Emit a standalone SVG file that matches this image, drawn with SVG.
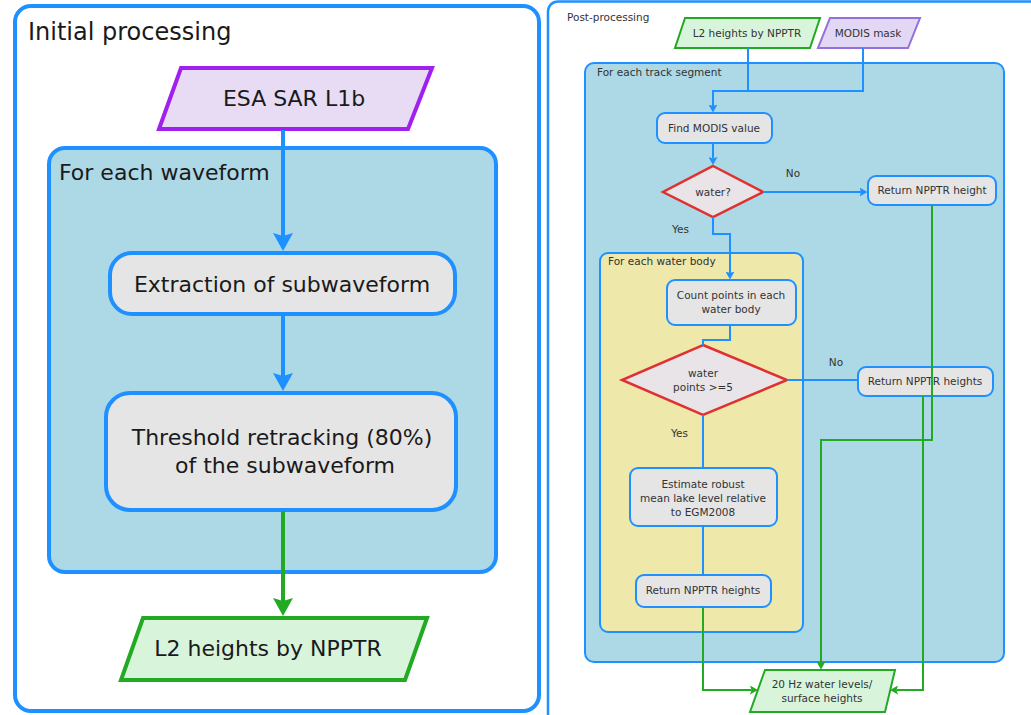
<svg xmlns="http://www.w3.org/2000/svg" width="1031" height="715" viewBox="0 0 1031 715">
<defs>
<style>
text{font-family:"DejaVu Sans","Liberation Sans",sans-serif;fill:#1a1a1a}
.big{font-size:22px}
.title{font-size:24px}
.sm{font-size:10.5px;fill:#333}
.mid{text-anchor:middle}
.panel{fill:#ffffff;stroke:#1e90ff}
.loop{fill:#add8e6;stroke:#1e90ff}
.wb{fill:#eee8aa;stroke:#1e90ff;stroke-width:2}
.proc{fill:#e5e5e5;stroke:#1e90ff}
.dec{fill:#e8e4e8;stroke:#e03030;stroke-width:2.5}
.inp{fill:#e8dcf5;stroke:#a020f0}
.inp2{fill:#e2d8f5;stroke:#9370db;stroke-width:2}
.out{fill:#d8f5dc;stroke:#22aa22}
.cb{fill:none;stroke:#1e90ff}
.cg{fill:none;stroke:#22aa22}
</style>
<marker id="ab" markerUnits="userSpaceOnUse" markerWidth="18" markerHeight="20" viewBox="0 0 18 20" refX="3" refY="10" orient="auto"><path d="M0,0 L18,10 L0,20 L3,10 z" fill="#1e90ff"/></marker>
<marker id="ag" markerUnits="userSpaceOnUse" markerWidth="18" markerHeight="20" viewBox="0 0 18 20" refX="3" refY="10" orient="auto"><path d="M0,0 L18,10 L0,20 L3,10 z" fill="#22aa22"/></marker>
<marker id="sb" markerUnits="userSpaceOnUse" markerWidth="8" markerHeight="9" viewBox="0 0 8 9" refX="1.5" refY="4.5" orient="auto"><path d="M0,0 L8,4.5 L0,9 L1.5,4.5 z" fill="#1e90ff"/></marker>
<marker id="sg" markerUnits="userSpaceOnUse" markerWidth="8" markerHeight="9" viewBox="0 0 8 9" refX="1.5" refY="4.5" orient="auto"><path d="M0,0 L8,4.5 L0,9 L1.5,4.5 z" fill="#22aa22"/></marker>
</defs>
<rect width="1031" height="715" fill="#ffffff"/>

<!-- Left panel -->
<g id="initial-processing">
<rect class="panel" x="15" y="6" width="524" height="705" rx="16" stroke-width="4"/>
<text class="title" x="28" y="40">Initial processing</text>
</g>
<g id="for-each-waveform">
<rect class="loop" x="49" y="148" width="447" height="424" rx="16" stroke-width="4"/>
<text class="big" x="59" y="180">For each waveform</text>
</g>
<g id="esa-sar-l1b">
<polygon class="inp" points="181,68 432,68 408,129 159,129" stroke-width="4"/>
<text class="big mid" x="294" y="106">ESA SAR L1b</text>
</g>
<g id="extraction">
<rect class="proc" x="110" y="253" width="345" height="61" rx="22" stroke-width="4"/>
<text class="big mid" x="282" y="292">Extraction of subwaveform</text>
</g>
<g id="threshold">
<rect class="proc" x="106" y="393" width="350" height="117" rx="24" stroke-width="4"/>
<text class="big mid" x="282" y="445">Threshold retracking (80%)</text>
<text class="big mid" x="285" y="473">of the subwaveform</text>
</g>
<g id="l2-heights-left">
<polygon class="out" points="143,618 427,618 405,680 121,680" stroke-width="4"/>
<text class="big mid" x="268" y="656">L2 heights by NPPTR</text>
</g>

<!-- Right panel -->
<g id="post-processing">
<rect class="panel" x="548" y="1.5" width="500" height="740" rx="10" stroke-width="2.5"/>
<text class="sm" x="567" y="21">Post-processing</text>
</g>
<g id="for-each-track-segment">
<rect class="loop" x="585" y="63" width="419" height="599" rx="9" stroke-width="2"/>
<text class="sm" x="597" y="76">For each track segment</text>
</g>
<g id="for-each-water-body">
<rect class="wb" x="600" y="253" width="203" height="379" rx="8"/>
<text class="sm" x="608" y="265">For each water body</text>
</g>
<g id="l2-heights-right">
<polygon class="out" points="685,18 820,18 810,48 675,48" stroke-width="2"/>
<text class="sm mid" x="747" y="37">L2 heights by NPPTR</text>
</g>
<g id="modis-mask">
<polygon class="inp2" points="830,18 920,18 908,48 818,48"/>
<text class="sm mid" x="868" y="37">MODIS mask</text>
</g>
<g id="find-modis">
<rect class="proc" x="657" y="113" width="115" height="30" rx="8" stroke-width="2"/>
<text class="sm mid" x="714" y="132">Find MODIS value</text>
</g>
<g id="water-decision">
<polygon class="dec" points="713,166 763,192 713,217 663,192"/>
<text class="sm mid" x="713" y="196">water?</text>
</g>
<g id="return-height-1">
<rect class="proc" x="868" y="176" width="128" height="29" rx="8" stroke-width="2"/>
<text class="sm mid" x="932" y="194">Return NPPTR height</text>
</g>
<g id="count-points">
<rect class="proc" x="667" y="280" width="129" height="45" rx="8" stroke-width="2"/>
<text class="sm mid" x="731" y="299">Count points in each</text>
<text class="sm mid" x="731" y="313">water body</text>
</g>
<g id="points-decision">
<polygon class="dec" points="703,345 787,380 703,415 622,380"/>
<text class="sm mid" x="703" y="377">water</text>
<text class="sm mid" x="703" y="391">points &gt;=5</text>
</g>
<g id="return-heights-2">
<rect class="proc" x="858" y="367" width="135" height="29" rx="8" stroke-width="2"/>
<text class="sm mid" x="925" y="385">Return NPPTR heights</text>
</g>
<g id="estimate">
<rect class="proc" x="630" y="468" width="147" height="58" rx="8" stroke-width="2"/>
<text class="sm mid" x="703" y="488">Estimate robust</text>
<text class="sm mid" x="703" y="502">mean lake level relative</text>
<text class="sm mid" x="703" y="516">to EGM2008</text>
</g>
<g id="return-heights-3">
<rect class="proc" x="636" y="575" width="135" height="32" rx="8" stroke-width="2"/>
<text class="sm mid" x="703" y="594">Return NPPTR heights</text>
</g>
<g id="water-levels">
<polygon class="out" points="765,670 895,670 885,712 750,712" stroke-width="2"/>
<text class="sm mid" x="822" y="688">20 Hz water levels/</text>
<text class="sm mid" x="822" y="702">surface heights</text>
</g>

<g id="connectors">
<path class="cb" stroke-width="4" d="M283,130 V236" marker-end="url(#ab)"/>
<path class="cb" stroke-width="4" d="M283,315 V376" marker-end="url(#ab)"/>
<path class="cg" stroke-width="4" d="M283,511 V601" marker-end="url(#ag)"/>

<path class="cb" stroke-width="2" d="M863,48 V91 H748"/>
<path class="cb" stroke-width="2" d="M748,48 V91 H713 V106" marker-end="url(#sb)"/>
<path class="cb" stroke-width="2" d="M713,143 V158.5" marker-end="url(#sb)"/>
<path class="cb" stroke-width="2" d="M763,192 H861" marker-end="url(#sb)"/>
<text class="sm mid" x="793" y="177">No</text>
<path class="cb" stroke-width="2" d="M713,217 V234 H730 V273" marker-end="url(#sb)"/>
<text class="sm" x="672" y="233">Yes</text>
<path class="cb" stroke-width="2" d="M730,325 V340 H703 V345"/>
<path class="cb" stroke-width="2" d="M787,380 H858"/>
<text class="sm mid" x="836" y="366">No</text>
<path class="cb" stroke-width="2" d="M703,415 V468"/>
<text class="sm" x="671" y="437">Yes</text>
<path class="cb" stroke-width="2" d="M703,526 V575"/>
<path class="cg" stroke-width="2" d="M932,205 V440 H821 V663" marker-end="url(#sg)"/>
<path class="cg" stroke-width="2" d="M923,396 V690 H896.5" marker-end="url(#sg)"/>
<path class="cg" stroke-width="2" d="M703,607 V690 H751.5" marker-end="url(#sg)"/>
</g>
</svg>
